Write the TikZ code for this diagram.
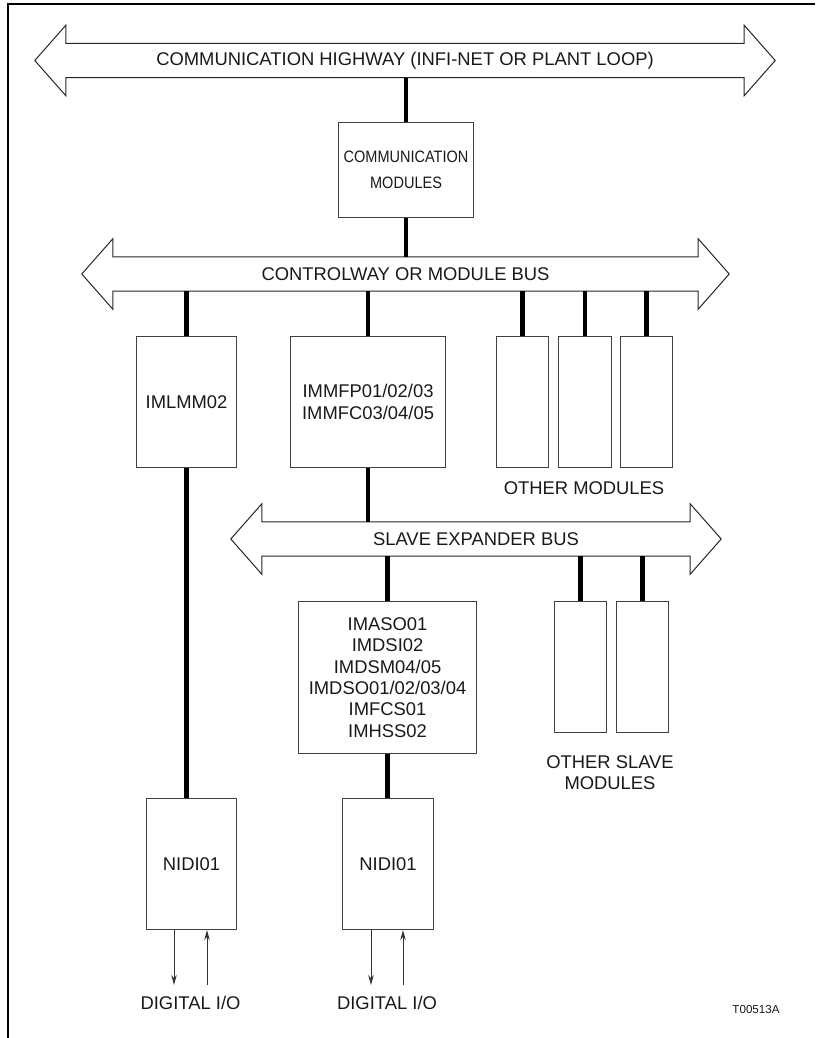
\documentclass[tikz,border=0pt]{standalone}
\usepackage{fontspec}
\setmainfont{Liberation Sans}
\usetikzlibrary{arrows.meta}
\newcommand\busoutline[1]{%
  \draw[busline] (#1.north west) -- (#1.north east) -- ([yshift=18pt]#1.north east)
    -- ([xshift=31pt]#1.east) -- ([yshift=-18pt]#1.south east) -- (#1.south east)
    -- (#1.south west) -- ([yshift=-18pt]#1.south west) -- ([xshift=-31pt]#1.west)
    -- ([yshift=18pt]#1.north west) -- cycle;}
\begin{document}
\begin{tikzpicture}[x=1pt,y=-1pt,
  every node/.style={font=\fontsize{18.4}{21.3}\selectfont, text=black!90},
  box/.style={draw=black!75, line width=1.1pt, inner sep=0pt, anchor=north west, align=center},
  bus/.style={inner sep=0pt, minimum height=34pt},
  busline/.style={draw=black!85, line width=1pt, line join=miter},
  conn/.style={line width=4.2pt, black},
  io/.style={line width=1pt, black!80, -{Stealth[length=10pt,width=5.5pt]}},
]
\useasboundingbox (0,0) rectangle (815,1038);
\draw[line width=1.5pt] (8,1038) -- (8,4) -- (815,4);

% buses
\node[bus, minimum width=678pt] (hw) at (405,60.5) {COMMUNICATION HIGHWAY (INFI-NET OR PLANT LOOP)};
\node[bus, minimum width=585pt] (cw) at (405.5,274) {CONTROLWAY OR MODULE BUS};
\node[bus, minimum width=428pt] (sb) at (476,539) {SLAVE EXPANDER BUS};
\busoutline{hw}
\busoutline{cw}
\busoutline{sb}

% boxes
\node[box, minimum width=135pt, minimum height=95pt, font=\fontsize{16.5}{26}\selectfont] (comm) at (338,122) {\scalebox{0.88}[1]{COMMUNICATION}\\\scalebox{0.88}[1]{MODULES}};
\node[box, minimum width=100pt, minimum height=131pt] (imlmm) at (136,336) {IMLMM02};
\node[box, minimum width=155pt, minimum height=131pt] (immfp) at (290,336) {IMMFP01/02/03\\IMMFC03/04/05};
\node[box, minimum width=52pt, minimum height=131pt] (om1) at (496,336) {};
\node[box, minimum width=53pt, minimum height=131pt] (om2) at (558,336) {};
\node[box, minimum width=52pt, minimum height=131pt] (om3) at (620,336) {};
\node[box, minimum width=178pt, minimum height=152pt] (imaso) at (298,601) {IMASO01\\IMDSI02\\IMDSM04/05\\IMDSO01/02/03/04\\IMFCS01\\IMHSS02};
\node[box, minimum width=52pt, minimum height=131pt] (os1) at (554,601) {};
\node[box, minimum width=52pt, minimum height=131pt] (os2) at (616,601) {};
\node[box, minimum width=90pt, minimum height=131pt] (nidiL) at (146,798) {NIDI01};
\node[box, minimum width=91pt, minimum height=131pt] (nidiR) at (342,798) {NIDI01};

% labels
\node (oml) at (584,488) {OTHER MODULES};
\node[align=center] (osl) at (610,773) {OTHER SLAVE\\MODULES};
\node (dioL) at (190.5,1003) {DIGITAL I/O};
\node (dioR) at (387,1003) {DIGITAL I/O};
\node[font=\fontsize{11.6}{14}\selectfont] (tag) at (756,1009) {T00513A};

% connectors
\draw[conn] (hw.south -| comm.north) -- (comm.north);
\draw[conn] (comm.south) -- (comm.south |- cw.north);
\draw[conn] (cw.south -| imlmm.north) -- (imlmm.north);
\draw[conn] (cw.south -| immfp.north) -- (immfp.north);
\draw[conn] (cw.south -| om1.north) -- (om1.north);
\draw[conn] (cw.south -| om2.north) -- (om2.north);
\draw[conn] (cw.south -| om3.north) -- (om3.north);
\draw[conn] (immfp.south) -- (immfp.south |- sb.north);
\draw[conn] (sb.south -| imaso.north) -- (imaso.north);
\draw[conn] (sb.south -| os1.north) -- (os1.north);
\draw[conn] (sb.south -| os2.north) -- (os2.north);
\draw[conn] (imlmm.south) -- (imlmm.south |- nidiL.north);
\draw[conn] (imaso.south) -- (imaso.south |- nidiR.north);

% digital I/O arrows
\coordinate (ioL1) at (174,985);
\coordinate (ioL2) at (207,985);
\coordinate (ioR1) at (371,985);
\coordinate (ioR2) at (403,985);
\draw[io] (ioL1 |- nidiL.south) -- (ioL1);
\draw[io] (ioL2) -- (ioL2 |- nidiL.south);
\draw[io] (ioR1 |- nidiR.south) -- (ioR1);
\draw[io] (ioR2) -- (ioR2 |- nidiR.south);
\end{tikzpicture}
\end{document}
